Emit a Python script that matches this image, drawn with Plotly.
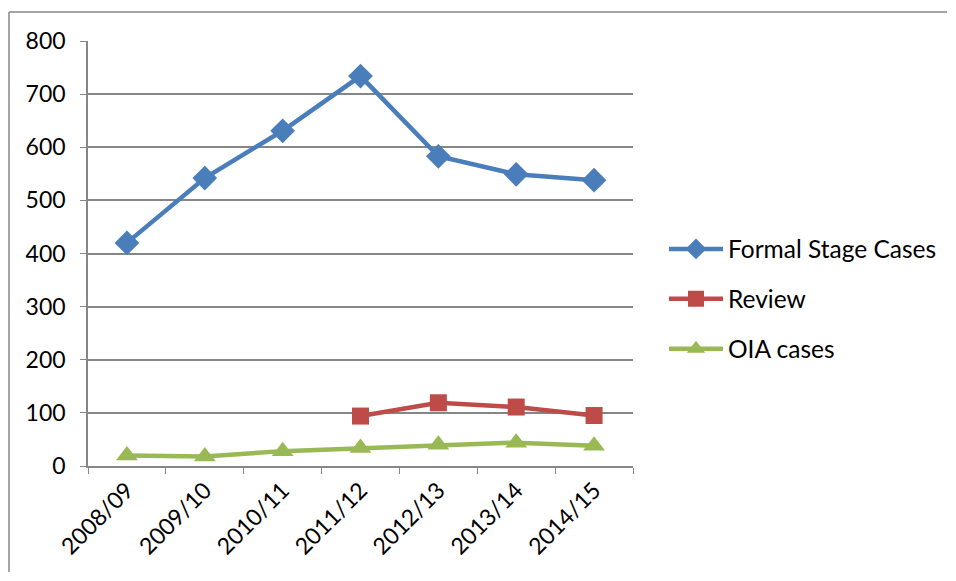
import plotly.graph_objects as go

categories = ["2008/09", "2009/10", "2010/11", "2011/12", "2012/13", "2013/14", "2014/15"]
formal_stage = [420, 542, 631, 734, 583, 549, 538]
review = [None, None, None, 94, 119, 111, 95]
oia_cases = [20, 18, 28, 34, 40, 44, 38]
y_ticks = [0, 100, 200, 300, 400, 500, 600, 700, 800]

FONT = "Lato"
OFF = 8  # page body margin
fig = go.Figure()
fig.add_trace(go.Scatter(x=categories, y=formal_stage, name="Formal Stage Cases", mode="lines+markers",
                         line=dict(color="#4A7EBB", width=4.5),
                         marker=dict(symbol="diamond", size=19, color="#4A7EBB"), legendgroup="a"))
fig.add_trace(go.Scatter(x=categories, y=review, name="Review", mode="lines+markers",
                         line=dict(color="#BE4B48", width=4.5),
                         marker=dict(symbol="square", size=17, color="#BE4B48"), legendgroup="b"))
fig.add_trace(go.Scatter(x=categories, y=oia_cases, name="OIA cases", mode="lines+markers",
                         line=dict(color="#98B954", width=4.5),
                         marker=dict(symbol="triangle-up", size=19, color="#98B954"), legendgroup="c"))

W, H = 956 - 2 * OFF, 581 - 2 * OFF
L, T = 88 - OFF, 41 - OFF
R = W - (633 - OFF)
B = H - (466 - OFF)
pw, ph = W - L - R, H - T - B

def px(x):
    return (x - OFF - L) / pw

def py(y):
    return (H - B - (y - OFF)) / ph

fig.update_layout(
    width=W, height=H,
    margin=dict(l=L, r=R, t=T, b=B, autoexpand=False),
    paper_bgcolor="white", plot_bgcolor="white",
    font=dict(family=FONT, size=23, color="black"),
    showlegend=True,
    legend=dict(x=px(664), y=py(299), xanchor="left", yanchor="middle",
                font=dict(family=FONT, size=24.5, color="black"),
                itemwidth=54, tracegroupgap=15, traceorder="grouped",
                bgcolor="rgba(0,0,0,0)"),
    xaxis=dict(type="category", showgrid=False, showline=True, linecolor="#868686", linewidth=1.5,
               ticks="outside", tickson="boundaries", ticklen=6, tickcolor="#868686",
               tickangle=-45, tickfont=dict(family=FONT, size=23), range=[-0.5, 6.5]),
    yaxis=dict(range=[0, 800], tickvals=y_ticks, showgrid=True, gridcolor="#868686", gridwidth=1.5,
               showline=True, linecolor="#868686", linewidth=1.5,
               ticks="outside", ticklen=6, tickcolor="#868686", ticklabelstandoff=10,
               tickfont=dict(family=FONT, size=23), zeroline=False),
    shapes=[
        dict(type="line", xref="paper", yref="paper", x0=px(9), x1=px(947), y0=py(12), y1=py(12),
             line=dict(color="#868686", width=1.5)),
        dict(type="line", xref="paper", yref="paper", x0=px(9), x1=px(9), y0=py(12), y1=py(572),
             line=dict(color="#868686", width=1.5)),
    ],
)

fig.write_html("out.html")
